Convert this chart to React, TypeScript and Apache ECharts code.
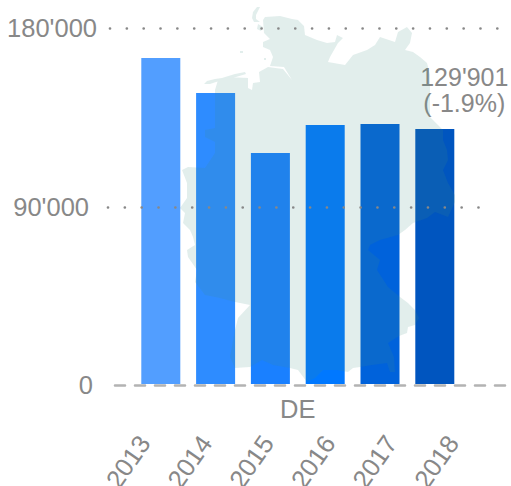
import React, { useEffect, useRef } from "react";
import * as echarts from "echarts";

const years = ["2013", "2014", "2015", "2016", "2017", "2018"];
const totals = [166040, 148220, 117660, 131920, 132430, 129901];
const barColors = ["#529eff", "#2e8cff", "#1a80ff", "#0078ff", "#0062db", "#0055bf"];
const lastNote = "(-1.9%)";
const regionName = "DE";
const axisMax = 180000;

const MAP_D =
  "M265,17 L280,16 L292,19 L298,20 L304,26 L305,35 L317,40 L327,43 L335,42 L337,35 L343,38 L338,43 L330,57 L328,62 L345,65 L353,55 L367,50 L375,45 L380,37 L395,42 L398,32 L407,27 L412,33 L410,43 L405,50 L413,52 L420,57 L427,63 L430,75 L430,100 L430,117 L433,120 " +
  "L438,125 L443,130 L443,140 L447,150 L448,160 L443,170 L448,183 L455,195 L455,202 L448,217 L435,212 L427,218 L413,223 L405,230 L398,235 L380,240 L370,245 L368,250 L380,260 L377,270 L388,287 L400,297 L408,303 L415,310 L419,318 L415,325 L408,327 L407,333 L399,336 L388,343 L394,357 L395,372 L390,372 L387,363 L372,365 L360,367 L353,368 L348,372 L337,370 L323,370 " +
  "L315,378 L307,382 L298,370 L290,368 L273,365 L262,360 L250,367 L235,368 L230,357 L235,330 L238,318 L250,305 L235,302 L220,298 L205,295 L195,282 L197,270 L188,257 L187,250 L195,245 L193,237 L190,230 L183,223 L185,213 L180,208 L187,198 L187,183 L182,170 L188,167 L205,168 L215,153 L215,142 L205,137 L205,130 L215,128 " +
  "L215,90 L218,80 L228,77 L248,78 L248,88 L252,90 L253,83 L260,82 L259,72 L268,67 L283,69 L292,80 L284,67 L270,66 L273,57 L270,50 L263,47 L263,42 L270,39 L264,33 L263,20 Z " +
  "M257,7 L260,7 L258,11 L256,15 L256,19 L260,22 L254,22 L252,18 L253,12 Z " +
  "M258,24 L263,27 L261,31 L257,29 Z " +
  "M204,84 L207,81 L215,79 L222,78 L235,74 L245,72 L246,74 L236,77 L222,80 L210,84 Z " +
  "M240,51 L243,51 L243,53 L240,53 Z M264,58 L266,58 L266,60 L264,60 Z";

echarts.graphic.registerShape("germany", echarts.graphic.extendPath(MAP_D, {}));

const GREY = "#888888";
const FONT = "'Liberation Sans', Arial, sans-serif";
const fmt = (v: number) => String(v).replace(/\B(?=(\d{3})+$)/g, "'");
const TOP = 28.3;
const BOTTOM = 486 - 385.3;
const grid = (left: number, right: number) => ({ left, top: TOP, width: right - left, bottom: BOTTOM, outerBoundsMode: "none" });
const hiddenX = (gridIndex: number) => ({ type: "value", gridIndex, min: 0, max: 1, show: false });
const dots = { show: true, lineStyle: { color: GREY, width: 2.7, type: [0.01, 16.83], cap: "round" } };

export default function App() {
  const ref = useRef<HTMLDivElement>(null);
  useEffect(() => {
    document.body.style.margin = "0";
    const chart = echarts.init(ref.current!, null, { renderer: "svg" });
    const yBase = { type: "value", min: 0, max: axisMax, axisLine: { show: false }, axisTick: { show: false } };
    const labelStyle = { color: GREY, fontSize: 25.5, fontFamily: FONT };
    chart.setOption({
      animation: false,
      grid: [
        { left: 133.4, top: 30.6, width: 328.8, bottom: 486 - 384, outerBoundsMode: "none" },
        grid(110, 497.5),
        grid(108, 495),
        grid(115, 505),
        grid(113.5, 483.5),
      ],
      xAxis: [
        {
          type: "category",
          gridIndex: 0,
          data: years,
          name: regionName,
          nameLocation: "middle",
          nameGap: 11.5,
          nameTextStyle: labelStyle,
          axisLine: { show: false },
          axisTick: { show: false },
          axisLabel: { show: false },
        },
        hiddenX(1),
        hiddenX(2),
        {
          type: "value",
          gridIndex: 3,
          min: 0,
          max: 1,
          splitLine: { show: false },
          axisTick: { show: false },
          axisLabel: { show: false },
          axisLine: { show: true, onZero: false, lineStyle: { color: "#b3b3b3", width: 2.6, type: [10, 10] } },
          z: 6,
        },
        {
          type: "category",
          gridIndex: 4,
          data: years,
          axisLine: { show: false },
          axisTick: { show: false },
          axisLabel: { ...labelStyle, rotate: 55, margin: 53, interval: 0 },
        },
      ],
      yAxis: [
        { ...yBase, gridIndex: 0, show: false },
        {
          ...yBase,
          gridIndex: 1,
          interval: axisMax,
          z: 5,
          splitLine: { ...dots, showMinLine: false },
          axisLabel: { ...labelStyle, margin: 13, showMinLabel: false, formatter: (v: number) => fmt(v) },
        },
        {
          ...yBase,
          gridIndex: 2,
          interval: axisMax / 2,
          z: 5,
          splitLine: { ...dots, showMinLine: false, showMaxLine: false },
          axisLabel: {
            ...labelStyle,
            margin: 19,
            showMinLabel: false,
            showMaxLabel: false,
            formatter: (v: number) => fmt(v),
          },
        },
        {
          ...yBase,
          gridIndex: 3,
          interval: axisMax,
          splitLine: { show: false },
          axisLabel: { ...labelStyle, margin: 22, showMaxLabel: false, formatter: (v: number) => fmt(v) },
        },
        { ...yBase, gridIndex: 4, show: false },
      ],
      series: [
        {
          type: "bar",
          xAxisIndex: 0,
          yAxisIndex: 0,
          barWidth: 39,
          data: totals.map((value, i) => ({
            value,
            itemStyle: { color: barColors[i] },
            label:
              i === totals.length - 1
                ? {
                    show: true,
                    position: "top",
                    offset: [29.5, -7.5],
                    color: GREY,
                    fontSize: 25,
                    lineHeight: 26,
                    fontFamily: FONT,
                    formatter: () => `${fmt(value)}\n${lastNote}`,
                  }
                : { show: false },
          })),
        },
      ],
      graphic: [
        {
          type: "germany",
          x: 0,
          y: 0,
          z: 3,
          silent: true,
          style: { fill: "rgb(65,144,131)", opacity: 0.153 },
        },
      ],
    });
    return () => chart.dispose();
  }, []);
  return <div ref={ref} style={{ position: "absolute", left: 0, top: 0, width: 511, height: 486, overflow: "hidden" }} />;
}
